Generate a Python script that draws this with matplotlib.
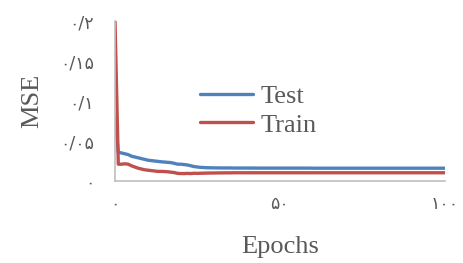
import matplotlib
matplotlib.use("Agg")
import matplotlib.pyplot as plt

epochs = list(range(101))
test_mse = [
    0.080, 0.036, 0.035, 0.034, 0.033, 0.031, 0.030, 0.029, 0.028, 0.027,
    0.026, 0.0255, 0.025, 0.0245, 0.024, 0.0237, 0.0233, 0.023, 0.022, 0.021,
    0.021, 0.0205, 0.020, 0.019, 0.018, 0.0175, 0.017, 0.0168, 0.0166, 0.0165,
    0.0164, 0.0164, 0.0163, 0.0163, 0.0163, 0.0163, 0.0162, 0.0162, 0.0162, 0.0162,
    0.0162, 0.0162, 0.0162, 0.0161, 0.0161, 0.0161, 0.0161, 0.0161, 0.0161, 0.0161,
    0.0161, 0.0161, 0.0161, 0.0161, 0.0161, 0.0161, 0.0161, 0.0161, 0.0161, 0.0161,
    0.0160, 0.0160, 0.0160, 0.0160, 0.0160, 0.0160, 0.0160, 0.0160, 0.0160, 0.0160,
    0.0160, 0.0160, 0.0160, 0.0160, 0.0160, 0.0160, 0.0160, 0.0160, 0.0160, 0.0160,
    0.0160, 0.0160, 0.0160, 0.0160, 0.0160, 0.0160, 0.0160, 0.0160, 0.0160, 0.0160,
    0.0160, 0.0160, 0.0160, 0.0160, 0.0160, 0.0160, 0.0160, 0.0160, 0.0160, 0.0160,
    0.0160,
]
train_mse = [
    0.200, 0.021, 0.021, 0.0215, 0.021, 0.019, 0.0175, 0.016, 0.015, 0.014,
    0.0135, 0.013, 0.0125, 0.012, 0.012, 0.0118, 0.0115, 0.011, 0.0105, 0.0095,
    0.0093, 0.0093, 0.0095, 0.0093, 0.0097, 0.0095, 0.0097, 0.0098, 0.0099, 0.0100,
    0.0100, 0.0101, 0.0101, 0.0102, 0.0102, 0.0102, 0.0103, 0.0103, 0.0103, 0.0103,
    0.0103, 0.0103, 0.0103, 0.0103, 0.0103, 0.0103, 0.0103, 0.0103, 0.0103, 0.0103,
    0.0103, 0.0103, 0.0103, 0.0103, 0.0103, 0.0103, 0.0103, 0.0103, 0.0103, 0.0103,
    0.0103, 0.0103, 0.0103, 0.0103, 0.0103, 0.0103, 0.0103, 0.0103, 0.0103, 0.0103,
    0.0103, 0.0103, 0.0103, 0.0103, 0.0103, 0.0103, 0.0103, 0.0103, 0.0103, 0.0103,
    0.0103, 0.0103, 0.0103, 0.0103, 0.0103, 0.0103, 0.0103, 0.0103, 0.0103, 0.0103,
    0.0103, 0.0103, 0.0103, 0.0103, 0.0103, 0.0103, 0.0103, 0.0103, 0.0103, 0.0103,
    0.0103,
]
x_ticks = [0, 50, 100]
x_tick_labels = ["۰", "۵۰", "۱۰۰"]
y_ticks = [0, 0.05, 0.1, 0.15, 0.2]
y_tick_labels = ["۰", "۰/۰۵", "۰/۱", "۰/۱۵", "۰/۲"]

serif = ["Liberation Serif", "DejaVu Serif"]
digits_font = ["DejaVu Sans"]
gray = "#595959"

fig = plt.figure(figsize=(4.64, 2.63), dpi=100)
ax = fig.add_axes([115 / 464, 1 - 181 / 263, (445 - 115) / 464, (181 - 21) / 263])

ax.plot(epochs, test_mse, color="#4f81bd", lw=2.4, label="Test", solid_capstyle="round")
ax.plot(epochs, train_mse, color="#c0504d", lw=2.4, label="Train", solid_capstyle="round")

ax.set_xlim(0, 100)
ax.set_ylim(0, 0.2)
ax.set_xticks(x_ticks)
ax.set_xticklabels(x_tick_labels, family=digits_font, fontsize=12.5, color=gray)
ax.set_yticks(y_ticks)
ax.set_yticklabels(y_tick_labels, family=digits_font, fontsize=12.5, color=gray)
ax.tick_params(length=0)
ax.tick_params(axis="x", pad=10)
ax.tick_params(axis="y", pad=15)

for s in ["top", "right"]:
    ax.spines[s].set_visible(False)
for s in ["left", "bottom"]:
    ax.spines[s].set_color("#bfbfbf")
    ax.spines[s].set_linewidth(1.2)

ax.set_xlabel("Epochs", family=serif, fontsize=19, color=gray, labelpad=17)
ax.set_ylabel("MSE", family=serif, fontsize=19, color=gray, labelpad=12)

leg = ax.legend(loc="center left", bbox_to_anchor=(0.185, 0.44), frameon=False,
                prop={"family": serif, "size": 19}, labelcolor=gray,
                handlelength=2.0, handletextpad=0.3, labelspacing=0.2)

fig.savefig("out.png", dpi=100)
